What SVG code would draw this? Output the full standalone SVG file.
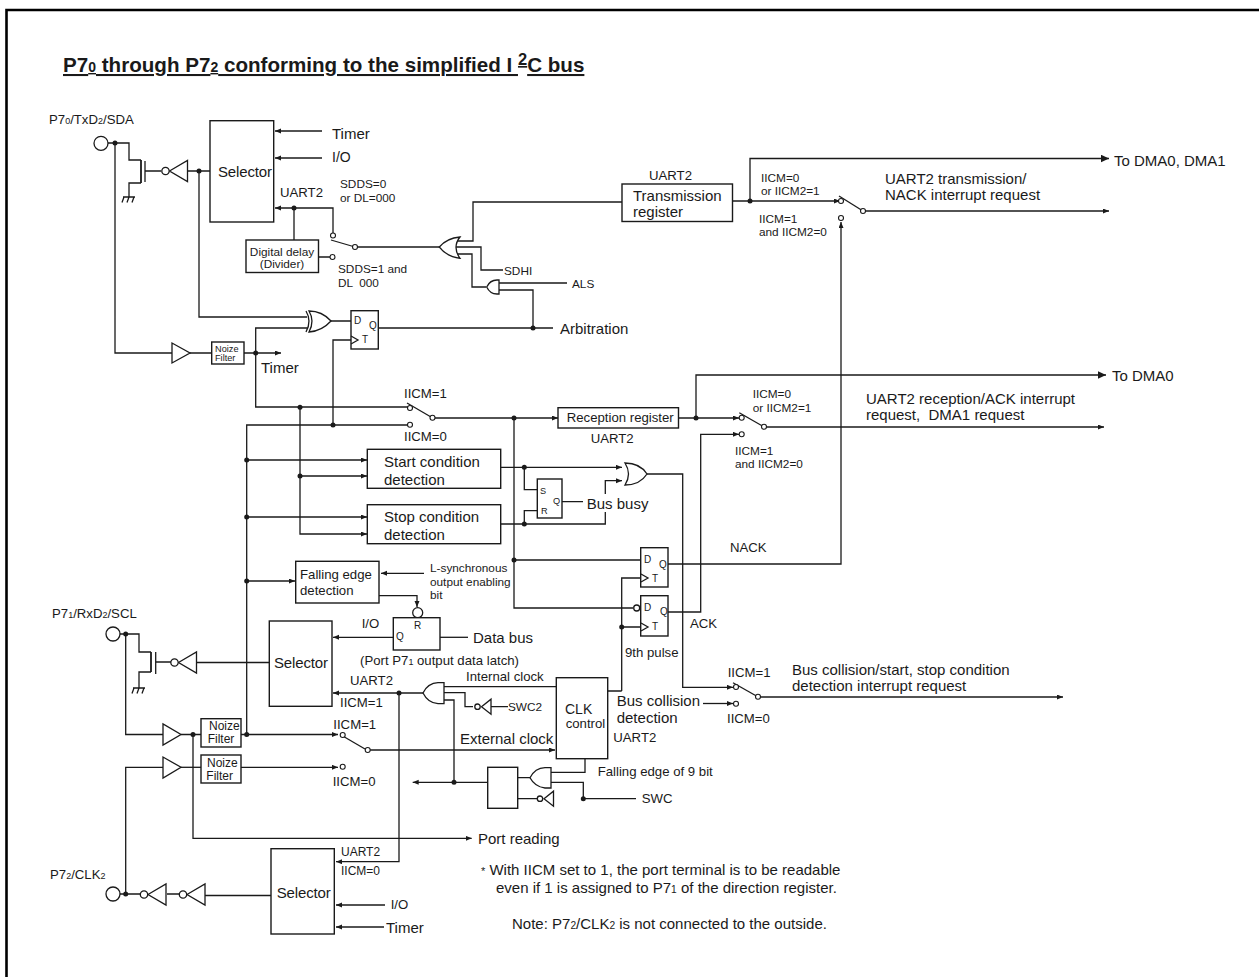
<svg xmlns="http://www.w3.org/2000/svg" width="1259" height="977" viewBox="0 0 1259 977">
<style>
text{font-family:"Liberation Sans",Arial,sans-serif;fill:#1a1a1a;white-space:pre}
.w{fill:none;stroke:#1a1a1a;stroke-width:1.3}
.b{fill:#fff;stroke:#1a1a1a;stroke-width:1.4}
.t15{font-size:15px}.t14{font-size:14px}.t13{font-size:13.2px}.t12{font-size:12px}.t11{font-size:11.8px}.t10{font-size:10px}.t9{font-size:9.200px}
.s{font-size:.68em}
.p{fill:#fff;stroke:#1a1a1a;stroke-width:1.3}
</style>
<defs>
<marker id="a" markerWidth="8" markerHeight="8" refX="6" refY="2.500" orient="auto" markerUnits="userSpaceOnUse"><path d="M0,0L6,2.500L0,5z" fill="#1a1a1a"/></marker>
<marker id="A" markerWidth="12" markerHeight="10" refX="8.500" refY="4" orient="auto" markerUnits="userSpaceOnUse"><path d="M0,0L8.500,4L0,8z" fill="#1a1a1a"/></marker>
<circle id="d" r="2.500" fill="#1a1a1a"/>
<circle id="o" r="2.500" fill="#fff" stroke="#1a1a1a" stroke-width="1.100"/>
<g id="inv"><path d="M0,0L18,-10.500L18,10.500z" class="p"/><circle cx="-4" r="3.700" class="p"/></g>
<g id="inv2"><path d="M0,0L9.500,-7.500L9.500,7.500z" class="p"/><circle cx="-4" r="2.700" class="p"/></g>
<g id="gnd"><path d="M-6,0H6M-5,0L-7,5.500M0,0L-2,5.500M5,0L3,5.500" class="w"/></g>
</defs>
<rect width="1259" height="977" fill="#fff"/>
<path d="M1259,10H6.500V977" fill="none" stroke="#000" stroke-width="2.600"/>
<text id="title" x="63" y="72" font-size="20.600" font-weight="bold" text-decoration="underline">P7<tspan class="s">0</tspan> through P7<tspan class="s">2</tspan> conforming to the simplified I <tspan font-size="16.500" dy="-7">2</tspan><tspan dy="7">C bus</tspan></text>

<g id="connectors" class="w">
<path d="M108,143H129V160H141M141,183H129V197M145,171H161M187,171H210M115,143V353H172M199,171V317H307"/>
<path d="M141,160V183" stroke-width="1.800"/>
<path d="M322,131H275" marker-end="url(#a)"/>
<path d="M322,158H275" marker-end="url(#a)"/>
<path d="M333,233V208H275" marker-end="url(#a)"/>
<path d="M294,208V240M318,257H330M331,240L355,247M357,247H440M190,353H211"/>
<path d="M244,353H281" marker-end="url(#a)"/>
<path d="M255.700,353V328H307M330,321H351M378,328H553M533,328V290H499M499,283H567M486,287H472V254H456M456,247H481V270H503M456,241H473V202H622"/>
<path d="M732,201H840" marker-end="url(#a)"/>
<path d="M750,201V158.500H1109" marker-end="url(#A)"/>
<path d="M839,196L863,211"/>
<path d="M865,211H1109" marker-end="url(#a)"/>
<path d="M668,564H841V222" marker-end="url(#a)"/>
<path d="M333,425V340H351"/>
<path d="M255.700,353V407H408M300,407V534H367" marker-end="url(#a)"/>
<path d="M246.700,734V425H408M300,476H367" marker-end="url(#a)"/>
<path d="M246.700,460H367" marker-end="url(#a)"/>
<path d="M246.700,517H367" marker-end="url(#a)"/>
<path d="M246.700,581H295" marker-end="url(#a)"/>
<path d="M407,403L431,417"/>
<path d="M435,418H558" marker-end="url(#a)"/>
<path d="M678,418H739" marker-end="url(#a)"/>
<path d="M696,418V375H1106" marker-end="url(#A)"/>
<path d="M739.300,412.700L762,425.700"/>
<path d="M766,427H1104" marker-end="url(#a)"/>
<path d="M668,612H700.700V434.300H739" marker-end="url(#a)"/>
<path d="M514,418V608H633M514,560H641"/>
<path d="M621.700,691H607.700M621.700,691V578H641M621.700,627H641"/>
<path d="M500.700,467.300H622" marker-end="url(#a)"/>
<path d="M605.300,494V480.700H622" marker-end="url(#a)"/>
<path d="M524.300,467.300V489.700H537M537,510.700H524.300V524M500.700,524H605.300V512M562,501.700H583"/>
<path d="M647,474H682.700V687.300H733" marker-end="url(#a)"/>
<path d="M733,682.700L756,695.700"/>
<path d="M760,697H1063" marker-end="url(#a)"/>
<path d="M703,703.500H733" marker-end="url(#a)"/>
<path d="M424,573.300H381" marker-end="url(#a)"/>
<path d="M379,595.700H417V607" marker-end="url(#a)"/>
<path d="M440,637.300H468"/>
<path d="M393,637.300H333" marker-end="url(#a)"/>
<path d="M197,662.500H269M171,662H155.700M151,652H139V634H120M151,672H139V688"/>
<path d="M151,652V672" stroke-width="1.800"/>
<path d="M125.700,634V734.500H163M181,734.500H201"/>
<path d="M193,734.500V838.300H471.700" marker-end="url(#a)"/>
<path d="M241,734.500H338" marker-end="url(#a)"/>
<path d="M181,767.300H201"/>
<path d="M241,767.300H338" marker-end="url(#a)"/>
<path d="M341,735L365,749"/>
<path d="M370,750H555" marker-end="url(#a)"/>
<path d="M163,767.300H125.700V894M120,894H140M167,894H179M205,895.500H271"/>
<path d="M423,693H333" marker-end="url(#a)"/>
<path d="M399,693V861.700H336" marker-end="url(#a)"/>
<path d="M444,686.700H556M444,692.700H465V706.700H473M490.700,706.700H508M444,700H454V782.300"/>
<path d="M487.700,782.300H412.700" marker-end="url(#a)"/>
<path d="M517,777.700H530M551,772.300H585V758.700M551,782.300H583.300V798.700H636M517,798.700H537"/>
<path d="M385,905H336" marker-end="url(#a)"/>
<path d="M384,927H336" marker-end="url(#a)"/>
</g>

<g id="dots">
<use href="#d" x="115" y="143"/><use href="#d" x="199" y="171"/><use href="#d" x="294" y="208"/><use href="#d" x="255.700" y="353"/><use href="#d" x="533" y="328"/><use href="#d" x="750" y="201"/>
<use href="#d" x="300" y="407.300"/><use href="#d" x="333" y="425"/><use href="#d" x="514" y="418"/><use href="#d" x="696" y="418"/><use href="#d" x="246.700" y="460"/><use href="#d" x="300" y="476"/><use href="#d" x="246.700" y="517"/><use href="#d" x="246.700" y="581"/>
<use href="#d" x="524.300" y="467.300"/><use href="#d" x="524.300" y="524"/><use href="#d" x="514" y="560"/><use href="#d" x="621.700" y="627"/><use href="#d" x="125.700" y="634"/><use href="#d" x="193" y="734.500"/><use href="#d" x="246.700" y="734.500"/><use href="#d" x="399" y="693"/><use href="#d" x="454" y="782.300"/><use href="#d" x="583.300" y="798.700"/><use href="#d" x="125.700" y="894"/>
</g>
<g id="terminals">
<use href="#o" x="333" y="235.500"/><use href="#o" x="355" y="247"/><use href="#o" x="332.500" y="257"/>
<use href="#o" x="841" y="201"/><use href="#o" x="841" y="218"/><use href="#o" x="863" y="211"/>
<use href="#o" x="410" y="408"/><use href="#o" x="410" y="424.700"/><use href="#o" x="432.500" y="417.700"/>
<use href="#o" x="741.700" y="417.700"/><use href="#o" x="741.700" y="434.300"/><use href="#o" x="764" y="426.700"/>
<use href="#o" x="736" y="687"/><use href="#o" x="736" y="703.700"/><use href="#o" x="758" y="696.700"/>
<use href="#o" x="342.700" y="735"/><use href="#o" x="342.700" y="766.700"/><use href="#o" x="367.700" y="750"/>
</g>

<g id="pin-p70"><circle cx="101" cy="143.300" r="7" class="p"/><use href="#gnd" x="129" y="197"/><path d="M145,161V182" class="w"/><use href="#inv" x="169.500" y="171"/></g>
<g id="pin-p71"><circle cx="113" cy="634" r="7" class="p"/><use href="#gnd" x="139" y="688"/><path d="M155.700,652V674" class="w"/><use href="#inv" x="178.500" y="662.500"/></g>
<g id="pin-p72"><circle cx="113" cy="894" r="7" class="p"/><use href="#inv" x="148" y="894.500"/><use href="#inv" x="187" y="894.500"/></g>

<g id="selector1"><rect x="210" y="120.700" width="63.700" height="101.300" class="b"/><text x="218" y="177" class="t15" textLength="54">Selector</text></g>
<g id="selector2"><rect x="269.300" y="621" width="62.700" height="85.300" class="b"/><text x="274" y="667.700" class="t15" textLength="54">Selector</text></g>
<g id="selector3"><rect x="271" y="848.700" width="63.300" height="85.300" class="b"/><text x="276.700" y="897.700" class="t15" textLength="54">Selector</text></g>
<g id="delay"><rect x="246" y="240" width="72.500" height="32.500" class="b"/><text x="282" y="255.500" text-anchor="middle" class="t11">Digital delay</text><text x="282" y="268" text-anchor="middle" class="t11">(Divider)</text></g>
<g id="tx"><rect x="622" y="184" width="110.500" height="37.500" class="b"/><text x="633" y="200.700" class="t15">Transmission</text><text x="633" y="217" class="t15">register</text></g>
<g id="rx"><rect x="558" y="407.700" width="120.500" height="20.300" class="b"/><text x="566.700" y="421.700" class="t13">Reception register</text></g>
<g id="start"><rect x="367.300" y="449.300" width="133.400" height="39" class="b"/><text x="384" y="467" class="t15">Start condition</text><text x="384" y="485" class="t15">detection</text></g>
<g id="stop"><rect x="367.300" y="504.700" width="133.400" height="39" class="b"/><text x="384" y="522" class="t15">Stop condition</text><text x="384" y="540" class="t15">detection</text></g>
<g id="falling"><rect x="295.700" y="561.300" width="83.300" height="41.700" class="b"/><text x="300" y="579.300" class="t13">Falling edge</text><text x="300" y="595" class="t13">detection</text></g>
<g id="ffsr"><rect x="537.300" y="479" width="24.700" height="39" class="b"/><text x="540" y="494" class="t9">S</text><text x="553" y="504" class="t9">Q</text><text x="541" y="514" class="t9">R</text></g>
<g id="ff0"><rect x="351" y="310.700" width="27.300" height="38.300" class="b"/><text x="354" y="324" class="t10">D</text><text x="369" y="329" class="t10">Q</text><text x="362" y="343" class="t10">T</text><path d="M351,336L358,340L351,344" class="w"/></g>
<g id="ff1"><rect x="640.700" y="547.700" width="27.300" height="39.300" class="b"/><text x="644" y="562.700" class="t10">D</text><text x="659" y="568" class="t10">Q</text><text x="652" y="581.700" class="t10">T</text><path d="M641,574L648,578L641,582" class="w"/></g>
<g id="ff2"><rect x="640.700" y="595.700" width="27.300" height="40.300" class="b"/><text x="644" y="611" class="t10">D</text><text x="660" y="615" class="t10">Q</text><text x="652" y="630" class="t10">T</text><path d="M641,623L648,627L641,631" class="w"/><circle cx="636.700" cy="608" r="3" class="p"/></g>
<g id="latch"><circle cx="417.700" cy="612.700" r="5" class="p"/><rect x="393.300" y="617.700" width="46.700" height="32.300" class="b"/><text x="414" y="629" class="t10">R</text><text x="396" y="640" class="t10">Q</text></g>
<g id="clk"><rect x="556.300" y="677.700" width="51.400" height="81" class="b"/><text x="565" y="714" class="t14">CLK</text><text x="565.700" y="728.300" class="t13">control</text></g>
<g id="nf1"><rect x="211.700" y="342" width="32.300" height="22" class="b"/><text x="215" y="352" class="t9">Noize</text><text x="215" y="361" class="t9">Filter</text></g>
<g id="nf2"><rect x="201" y="718.700" width="40" height="28.300" class="b"/><text x="209" y="730" class="t12">Noize</text><text x="207.700" y="743.300" class="t12">Filter</text></g>
<g id="nf3"><rect x="201" y="755" width="40" height="28" class="b"/><text x="207" y="766.700" class="t12">Noize</text><text x="206.300" y="780" class="t12">Filter</text></g>
<g id="buf1"><path d="M172,343V363L190,353z" class="p"/></g>
<g id="buf2"><path d="M163,724V745L181,734.500z" class="p"/></g>
<g id="buf3"><path d="M163,757V778L181,767.300z" class="p"/></g>
<g id="xor"><path d="M309,311Q322,311 331,321Q322,331 309,332Q315,321 309,311z" class="p"/><path d="M306,311Q312,321 306,332" class="w"/></g>
<g id="or1"><path d="M460,237Q447,238 439.300,247Q447,257 460,258.300Q452,247 460,237z" class="p"/></g>
<g id="and1"><path d="M499,280V294H497Q490,294 486.700,287Q490,280 497,280z" class="p"/></g>
<g id="or2"><path d="M625,463Q640,463 647,474Q640,485 625,485Q632,474 625,463z" class="p"/></g>
<g id="and2"><path d="M444,682.700V703.700H438Q428,703 423,693Q428,683 438,682.700z" class="p"/></g>
<g id="and3"><path d="M551,767.700V788H545Q535,787 530,777.800Q535,768 545,767.700z" class="p"/></g>
<g id="inv-swc2"><use href="#inv2" x="481.500" y="706.700"/></g>
<g id="inv-swc"><use href="#inv2" x="544" y="798.700"/></g>
<g id="box"><rect x="487.700" y="767.300" width="30" height="41" class="b"/></g>

<g id="labels">
<text x="49" y="124" class="t13">P7<tspan class="s">0</tspan>/TxD<tspan class="s">2</tspan>/SDA</text>
<text x="52" y="618" class="t13">P7<tspan class="s">1</tspan>/RxD<tspan class="s">2</tspan>/SCL</text>
<text x="50" y="879" class="t13">P7<tspan class="s">2</tspan>/CLK<tspan class="s">2</tspan></text>
<text x="332" y="139" class="t15">Timer</text><text x="332" y="162" class="t14">I/O</text>
<text x="280" y="197" class="t13">UART2</text>
<text x="340" y="188" class="t11">SDDS=0</text><text x="340" y="202" class="t11">or DL=000</text>
<text x="338" y="273" class="t11">SDDS=1 and</text><text x="338" y="287" class="t11">DL  000</text>
<text x="504" y="275" class="t11">SDHI</text><text x="572" y="288" class="t11">ALS</text>
<text x="560" y="334" class="t15">Arbitration</text>
<text x="261" y="373" class="t15">Timer</text>
<text x="649" y="180" class="t13">UART2</text>
<text x="761" y="181.700" class="t11">IICM=0</text><text x="761" y="195" class="t11">or IICM2=1</text>
<text x="759" y="222.700" class="t11">IICM=1</text><text x="759" y="236" class="t11">and IICM2=0</text>
<text x="885" y="184" class="t15">UART2 transmission/</text><text x="885" y="200" class="t15">NACK interrupt request</text>
<text x="1114" y="166" class="t15">To DMA0, DMA1</text>
<text x="1112" y="380.700" class="t15">To DMA0</text>
<text x="866" y="404" class="t15">UART2 reception/ACK interrupt</text><text x="866" y="420" class="t15">request,  DMA1 request</text>
<text x="752.700" y="398" class="t11">IICM=0</text><text x="752.700" y="411.700" class="t11">or IICM2=1</text>
<text x="735" y="455" class="t11">IICM=1</text><text x="735" y="468" class="t11">and IICM2=0</text>
<text x="404" y="398" class="t13">IICM=1</text><text x="404" y="441" class="t13">IICM=0</text>
<text x="590.700" y="443" class="t13">UART2</text>
<text x="586.700" y="509" class="t15">Bus busy</text>
<text x="730" y="552" class="t13">NACK</text><text x="690" y="628" class="t13">ACK</text>
<text x="430" y="572" class="t11">L-synchronous</text><text x="430" y="585.700" class="t11">output enabling</text><text x="430" y="599" class="t11">bit</text>
<text x="473" y="643" class="t15">Data bus</text>
<text x="361.700" y="628" class="t13">I/O</text>
<text x="360" y="665" class="t13">(Port P7<tspan class="s">1</tspan> output data latch)</text>
<text x="625" y="657" class="t13">9th pulse</text>
<text x="350" y="685" class="t13">UART2</text>
<text x="340" y="706.700" class="t13">IICM=1</text>
<text x="466" y="680.700" class="t13">Internal clock</text>
<text x="508" y="711" class="t11">SWC2</text>
<text x="460" y="744" class="t15">External clock</text>
<text x="616.700" y="706" class="t15">Bus collision</text><text x="616.700" y="722.700" class="t15">detection</text>
<text x="613.300" y="742.300" class="t13">UART2</text>
<text x="597.700" y="776" class="t13">Falling edge of 9 bit</text>
<text x="641.700" y="803.300" class="t13">SWC</text>
<text x="478" y="844" class="t15">Port reading</text>
<text x="727.700" y="676.700" class="t13">IICM=1</text><text x="727" y="722.700" class="t13">IICM=0</text>
<text x="792" y="675" class="t15">Bus collision/start, stop condition</text><text x="792" y="691" class="t15">detection interrupt request</text>
<text x="333.300" y="729.300" class="t13">IICM=1</text><text x="332.700" y="786" class="t13">IICM=0</text>
<text x="341" y="856" class="t12">UART2</text><text x="341" y="875" class="t12">IICM=0</text>
<text x="390.700" y="909.300" class="t13">I/O</text><text x="386" y="932.700" class="t15">Timer</text>
<text x="481" y="875" class="t15"><tspan font-size="11">*</tspan> With IICM set to 1, the port terminal is to be readable</text>
<text x="496" y="893.300" class="t15">even if 1 is assigned to P7<tspan class="s">1</tspan> of the direction register.</text>
<text x="512" y="929.300" class="t15">Note: P7<tspan class="s">2</tspan>/CLK<tspan class="s">2</tspan> is not connected to the outside.</text>
</g>
</svg>
